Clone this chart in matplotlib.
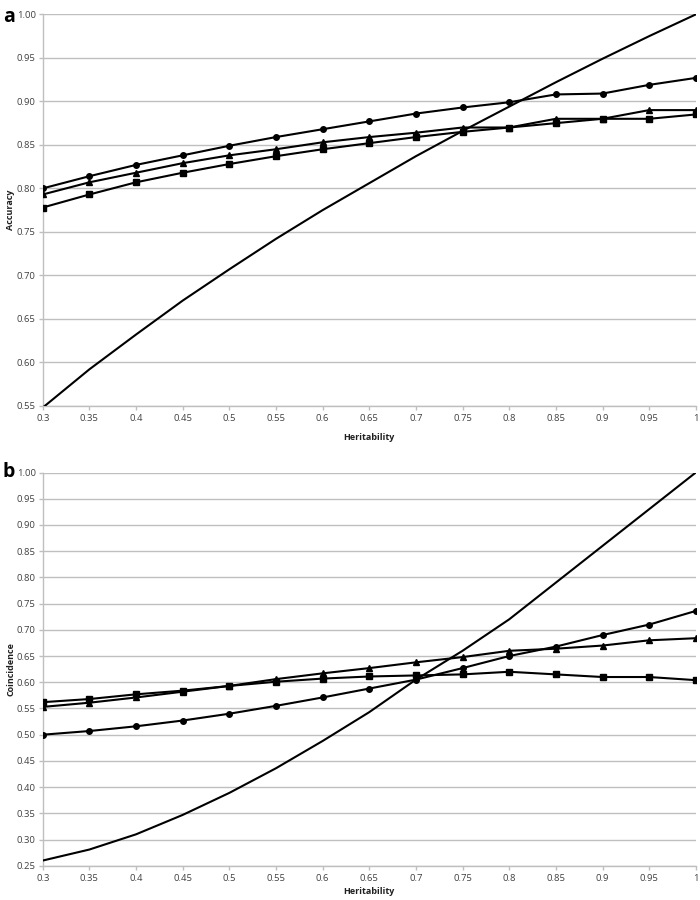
import matplotlib
matplotlib.use("Agg")
import matplotlib.pyplot as plt
import numpy as np

herit = [0.3, 0.35, 0.4, 0.45, 0.5, 0.55, 0.6, 0.65, 0.7, 0.75, 0.8, 0.85, 0.9, 0.95, 1]
xlabels = ["0.3", "0.35", "0.4", "0.45", "0.5", "0.55", "0.6", "0.65", "0.7", "0.75",
           "0.8", "0.85", "0.9", "0.95", "1"]

# panel a: accuracy
acc_circle = [0.800, 0.814, 0.827, 0.838, 0.849, 0.859, 0.868, 0.877, 0.886, 0.893,
              0.899, 0.908, 0.909, 0.919, 0.927]
acc_triangle = [0.793, 0.807, 0.818, 0.829, 0.838, 0.845, 0.853, 0.859, 0.864, 0.870,
                0.870, 0.880, 0.880, 0.890, 0.890]
acc_square = [0.778, 0.793, 0.807, 0.818, 0.828, 0.837, 0.845, 0.852, 0.859, 0.865,
              0.870, 0.875, 0.880, 0.880, 0.885]
acc_line = [0.548, 0.592, 0.632, 0.671, 0.707, 0.742, 0.775, 0.806, 0.837, 0.866,
            0.894, 0.922, 0.949, 0.975, 1.000]

# panel b: coincidence
coi_circle = [0.500, 0.507, 0.516, 0.527, 0.540, 0.555, 0.571, 0.588, 0.605, 0.627,
              0.650, 0.668, 0.690, 0.710, 0.736]
coi_triangle = [0.553, 0.561, 0.571, 0.582, 0.593, 0.606, 0.617, 0.627, 0.638, 0.648,
                0.660, 0.664, 0.670, 0.680, 0.684]
coi_square = [0.562, 0.568, 0.577, 0.584, 0.593, 0.601, 0.607, 0.611, 0.613, 0.615,
              0.620, 0.615, 0.610, 0.610, 0.604]
coi_line = [0.260, 0.281, 0.310, 0.347, 0.389, 0.436, 0.488, 0.543, 0.605, 0.660,
            0.720, 0.790, 0.860, 0.930, 1.000]

plt.rcParams["font.family"] = ["Open Sans", "DejaVu Sans"]
grid_c = "#bfbfbf"
text_c = "#404040"

fig = plt.figure(figsize=(7, 9), dpi=100)
ax1 = fig.add_axes([0.061, 0.549, 0.933, 0.435])
ax2 = fig.add_axes([0.061, 0.038, 0.933, 0.437])


def draw(ax, circ, tri, sq, line, ylo, ylabel, xpad):
    ax.plot(herit, line, color="black", lw=1.5, zorder=3)
    ax.plot(herit, circ, color="black", lw=1.5, marker="o", ms=4, zorder=4)
    ax.plot(herit, tri, color="black", lw=1.5, marker="^", ms=4.5, zorder=4)
    ax.plot(herit, sq, color="black", lw=1.5, marker="s", ms=4.5, zorder=4)
    ax.set_xlim(0.3, 1)
    ax.set_ylim(ylo, 1.0)
    ax.set_xticks(herit)
    ax.set_xticklabels(xlabels)
    yt = np.arange(ylo, 1.0001, 0.05)
    ax.set_yticks(yt)
    ax.set_yticklabels(["%.2f" % v for v in yt])
    ax.grid(axis="y", color=grid_c, lw=1)
    ax.set_axisbelow(True)
    for s in ["top", "right"]:
        ax.spines[s].set_visible(False)
    for s in ["left", "bottom"]:
        ax.spines[s].set_color(grid_c)
        ax.spines[s].set_linewidth(1)
    ax.tick_params(axis="both", labelsize=6.8, colors=grid_c, labelcolor=text_c,
                   length=3, width=1, pad=2)
    ax.tick_params(axis="x", pad=3)
    ax.set_xlabel("Heritability", fontsize=6.5, fontweight="bold", color="#202020",
                  labelpad=xpad)
    ax.set_ylabel(ylabel, fontsize=6.5, fontweight="bold", color="#202020")
    ax.yaxis.set_label_coords(-0.042, 0.5)


draw(ax1, acc_circle, acc_triangle, acc_square, acc_line, 0.55, "Accuracy", 7)
draw(ax2, coi_circle, coi_triangle, coi_square, coi_line, 0.25, "Coincidence", 3)

fig.text(0.004, 0.992, "a", fontsize=14, fontweight="bold", va="top", ha="left")
fig.text(0.004, 0.487, "b", fontsize=14, fontweight="bold", va="top", ha="left")

fig.savefig("out.png", dpi=100)
